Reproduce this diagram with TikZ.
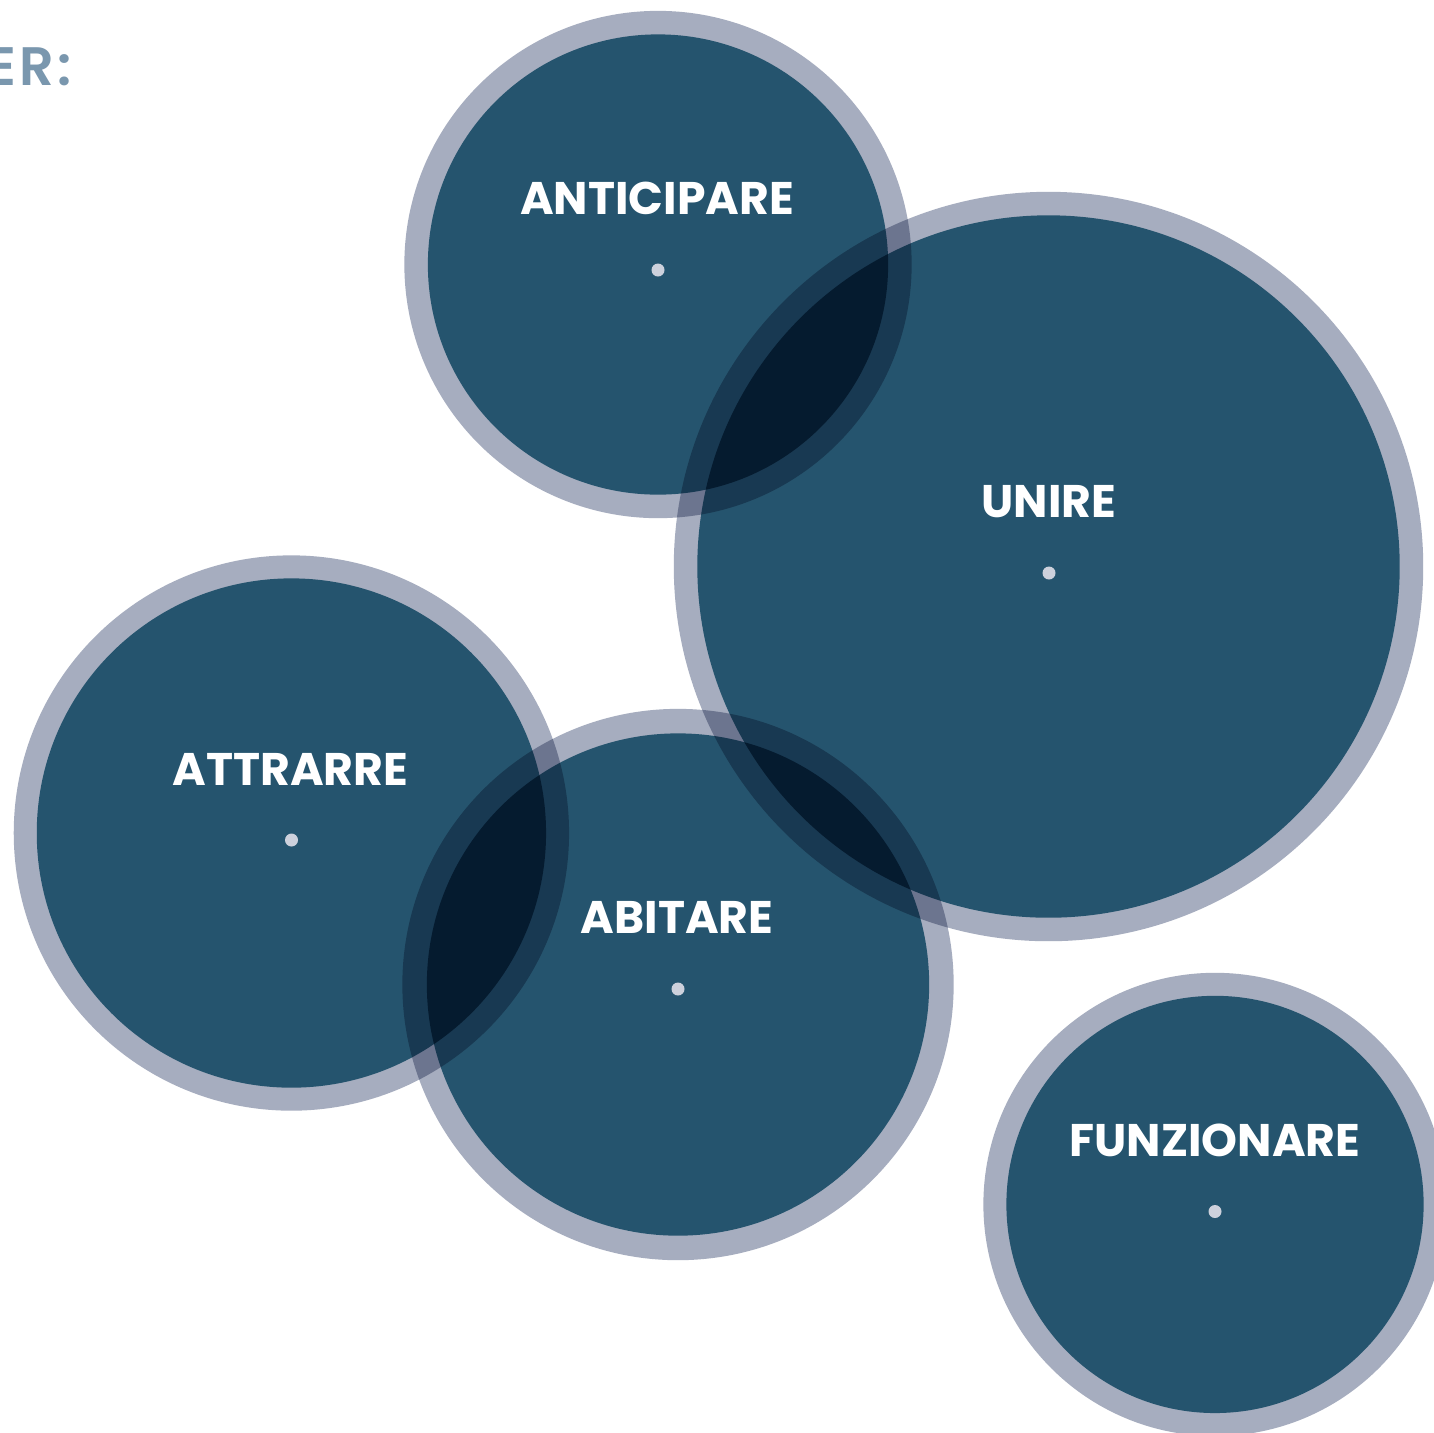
\documentclass[tikz,border=0pt]{standalone}
\usepackage{fontspec}
\newfontfamily\labfont{Poppins}
\IfFontExistsTF{Poppins SemiBold}{\newfontfamily\headfont{Poppins SemiBold}[LetterSpace=6]}{\newfontfamily\headfont{Poppins}[LetterSpace=6]}
\definecolor{ringc}{HTML}{A6ADBF}
\definecolor{corec}{HTML}{3A7D93}
\definecolor{dotc}{HTML}{CDD1DC}
\definecolor{headc}{HTML}{7A97AE}
\tikzset{
  ringnode/.style={circle, inner sep=0pt, draw=none, fill=ringc, blend mode=multiply, minimum size=#1},
  corenode/.style={circle, inner sep=0pt, draw=none, fill=corec, blend mode=multiply, minimum size=#1},
  lab/.style={text=white, font=\labfont\bfseries\fontsize{13pt}{13pt}\selectfont, anchor=base, inner sep=0pt},
  dotm/.style={circle, fill=dotc, draw=none, inner sep=0pt, minimum size=0.13cm},
}
\begin{document}
\begin{tikzpicture}[x=0.01cm,y=-0.01cm]
\fill[white] (0,0) rectangle (1434,1432);
\useasboundingbox (0,0) rectangle (1434,1432);
% rings
\node[ringnode=5.07cm] (rA) at (658,264.5) {};
\node[ringnode=7.49cm] (rU) at (1048.5,566.5) {};
\node[ringnode=5.55cm] (rT) at (291.4,833) {};
\node[ringnode=5.51cm] (rB) at (678,984.5) {};
\node[ringnode=4.63cm] (rF) at (1215,1204.4) {};
% cores
\node[corenode=4.60cm] (cA) at (rA.center) {};
\node[corenode=7.02cm] (cU) at (rU.center) {};
\node[corenode=5.09cm] (cT) at (rT.center) {};
\node[corenode=5.02cm] (cB) at (rB.center) {};
\node[corenode=4.17cm] (cF) at (rF.center) {};
% dots
\node[dotm] (dA) at (658,270) {};
\node[dotm] (dU) at (1049,573) {};
\node[dotm] (dT) at (291.5,840) {};
\node[dotm] (dB) at (678,989) {};
\node[dotm] (dF) at (1215,1211.5) {};
% labels
\node[lab] (lA) at (657,214) {ANTICIPARE};
\node[lab] (lU) at (1049,517) {UNIRE};
\node[lab] (lT) at (290.5,785) {ATTRARRE};
\node[lab] (lB) at (677,933) {ABITARE};
\node[lab] (lF) at (1215,1156) {FUNZIONARE};
% header
\node[anchor=base east, inner sep=0pt, text=headc, font=\headfont\fontsize{15.4pt}{15.4pt}\selectfont] (head) at (72,85) {ER:};
\end{tikzpicture}
\end{document}
